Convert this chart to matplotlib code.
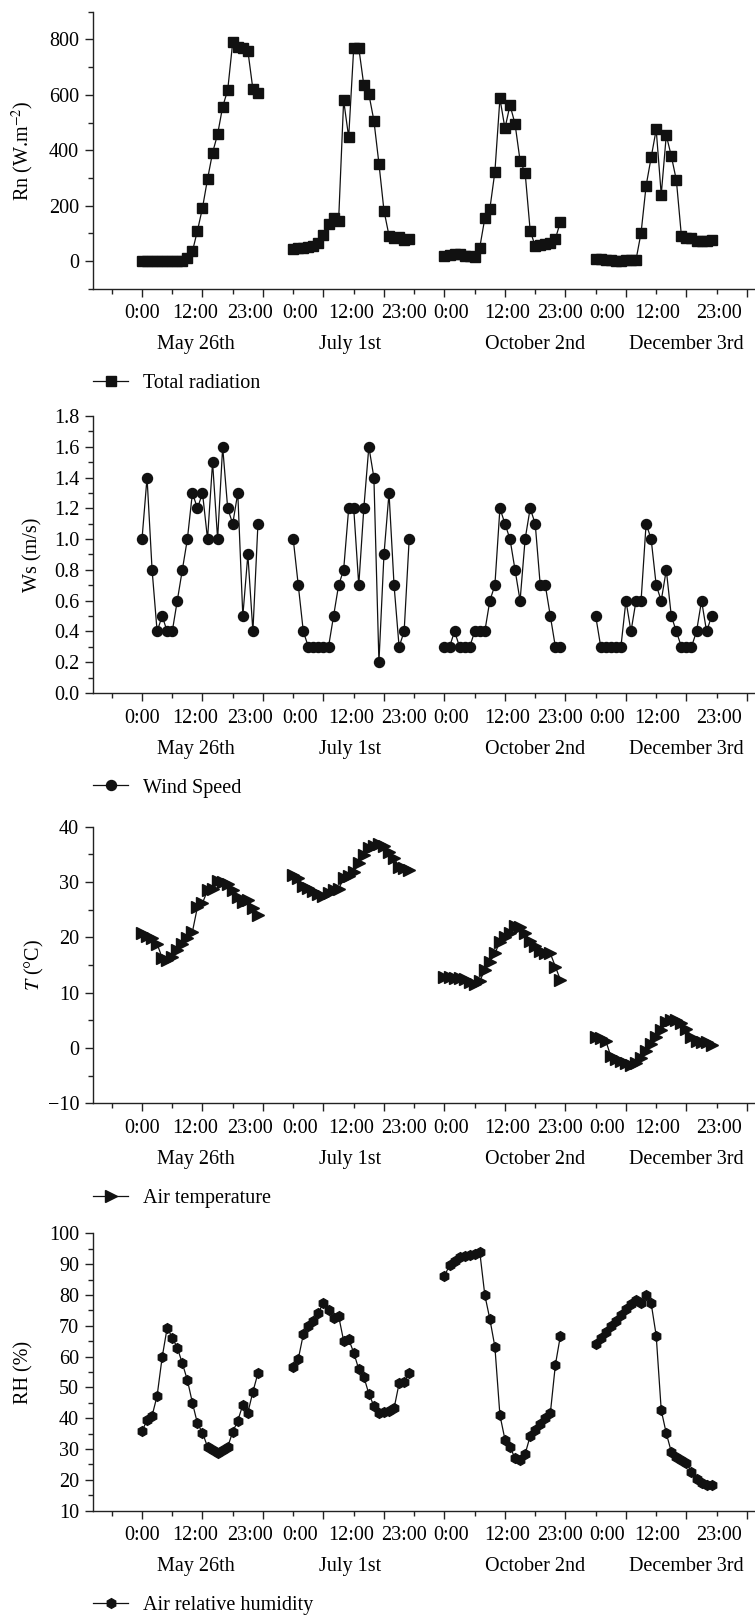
import numpy as np
import matplotlib
matplotlib.use('Agg')
import matplotlib.pyplot as plt
from matplotlib.ticker import MultipleLocator
from matplotlib.lines import Line2D

plt.rcParams['font.family'] = ['Liberation Serif', 'DejaVu Serif']
plt.rcParams['mathtext.fontset'] = 'stix'

# hourly data, 0:00 .. 23:00 for each of the four days
hours = np.arange(24)
days = ['May 26th', 'July 1st', 'October 2nd', 'December 3rd']

rn_may = [0, 0, 0, 0, 0, 0, 0, 0, 2, 10, 35, 110, 192, 296, 391, 458, 557, 617, 791, 773, 770, 759, 620, 608]
rn_jul = [45, 47, 48, 50, 55, 65, 95, 135, 155, 145, 580, 447, 770, 770, 635, 603, 507, 352, 182, 92, 85, 87, 76, 78]
rn_oct = [18, 22, 25, 24, 20, 17, 16, 49, 154, 188, 322, 587, 479, 563, 495, 362, 319, 110, 54, 57, 61, 64, 80, 142]
rn_dec = [8, 6, 4, 3, 2, 2, 3, 4, 5, 102, 272, 374, 475, 240, 454, 379, 292, 91, 85, 82, 73, 72, 73, 76]

ws_may = [1.0, 1.4, 0.8, 0.4, 0.5, 0.4, 0.4, 0.6, 0.8, 1.0, 1.3, 1.2, 1.3, 1.0, 1.5, 1.0, 1.6, 1.2, 1.1, 1.3, 0.5, 0.9, 0.4, 1.1]
ws_jul = [1.0, 0.7, 0.4, 0.3, 0.3, 0.3, 0.3, 0.3, 0.5, 0.7, 0.8, 1.2, 1.2, 0.7, 1.2, 1.6, 1.4, 0.2, 0.9, 1.3, 0.7, 0.3, 0.4, 1.0]
ws_oct = [0.3, 0.3, 0.4, 0.3, 0.3, 0.3, 0.4, 0.4, 0.4, 0.6, 0.7, 1.2, 1.1, 1.0, 0.8, 0.6, 1.0, 1.2, 1.1, 0.7, 0.7, 0.5, 0.3, 0.3]
ws_dec = [0.5, 0.3, 0.3, 0.3, 0.3, 0.3, 0.6, 0.4, 0.6, 0.6, 1.1, 1.0, 0.7, 0.6, 0.8, 0.5, 0.4, 0.3, 0.3, 0.3, 0.4, 0.6, 0.4, 0.5]

t_may = [20.8, 20.3, 19.8, 18.8, 16.3, 15.9, 16.5, 17.8, 18.8, 19.8, 21.0, 25.5, 26.2, 28.5, 28.8, 30.2, 30.0, 29.6, 28.6, 27.3, 26.4, 26.8, 25.3, 24.0]
t_jul = [31.2, 30.8, 29.3, 28.9, 28.3, 27.8, 27.4, 28.0, 28.6, 28.7, 30.7, 31.0, 31.9, 33.4, 34.9, 36.1, 36.6, 36.8, 36.5, 35.5, 34.3, 32.8, 32.5, 32.1]
t_oct = [12.9, 12.8, 12.7, 12.6, 12.4, 12.0, 11.6, 12.1, 14.1, 15.6, 17.1, 19.2, 20.1, 20.7, 22.0, 21.8, 20.7, 19.3, 18.4, 17.5, 17.2, 17.1, 14.7, 12.3]
t_dec = [2.0, 1.8, 1.3, -1.5, -2.0, -2.3, -2.8, -3.0, -2.7, -1.8, -0.5, 0.8, 2.0, 3.3, 4.7, 5.0, 5.0, 4.6, 3.5, 2.0, 1.3, 1.0, 1.0, 0.5]

rh_may = [35.8, 39.4, 40.8, 47.3, 59.8, 69.4, 66.1, 62.9, 57.8, 52.4, 45.0, 38.3, 35.3, 30.7, 29.6, 28.8, 29.6, 30.7, 35.6, 39.2, 44.3, 41.8, 48.6, 54.6]
rh_jul = [56.5, 59.2, 67.2, 69.9, 71.6, 74.3, 77.5, 75.0, 72.4, 73.2, 65.1, 65.6, 61.3, 55.9, 53.5, 47.9, 44.0, 41.6, 42.1, 42.3, 43.2, 51.3, 51.8, 54.8]
rh_oct = [86.1, 89.7, 91.1, 92.3, 92.6, 92.8, 93.2, 94.0, 80.0, 72.2, 63.2, 41.0, 33.1, 30.7, 27.0, 26.4, 28.4, 34.2, 36.1, 38.0, 40.0, 41.6, 57.3, 66.8]
rh_dec = [64.0, 66.0, 68.0, 70.0, 71.5, 73.5, 75.5, 77.0, 78.5, 77.5, 80.0, 77.3, 66.8, 42.6, 35.1, 29.1, 27.5, 26.4, 25.6, 22.6, 20.2, 19.0, 18.5, 18.3]

hour_labels = ['0:00', '12:00', '23:00'] * 4

# layout
day_start = [0, 30, 60, 90]
hour_label_x = [0, 10.5, 21.5, 31.4, 41.4, 52, 61.3, 72.5, 83, 92.3, 102.2, 114.5]
day_label_x = [10.7, 41.2, 78, 108]

W, H = 755, 1619
fig = plt.figure(figsize=(W / 100, H / 100), dpi=100)
fs = 14.5

panels = [
    dict(data=[rn_may, rn_jul, rn_oct, rn_dec], marker='s', ms=7, ylim=(-100, 900),
         minor=100, ticks=np.arange(0, 801, 200), fmt='{:.0f}',
         ylabel=r'Rn (W.m$^{-2}$)', labx=23, legend='Total radiation', top=11.7, bot=288.8),
    dict(data=[ws_may, ws_jul, ws_oct, ws_dec], marker='o', ms=7.2, ylim=(0, 1.8),
         minor=0.1, ticks=np.arange(0, 1.81, 0.2), fmt='{:.1f}',
         ylabel='Ws (m/s)', labx=32.5, legend='Wind Speed', top=416, bot=693),
    dict(data=[t_may, t_jul, t_oct, t_dec], marker='>', ms=8, ylim=(-10, 40),
         minor=5, ticks=np.arange(-10, 41, 10), fmt='{:.0f}',
         ylabel=r'$T$ (°C)', labx=34, legend='Air temperature', top=826.7, bot=1103.3),
    dict(data=[rh_may, rh_jul, rh_oct, rh_dec], marker='h', ms=7, ylim=(10, 100),
         minor=5, ticks=np.arange(10, 101, 10), fmt='{:.0f}',
         ylabel='RH (%)', labx=24, legend='Air relative humidity', top=1233.3, bot=1510.7),
]

left = 93
col = '#111111'
for p in panels:
    ax = fig.add_axes([left / W, 1 - p['bot'] / H, (W - left) / W, (p['bot'] - p['top']) / H])
    for d, vals in zip(day_start, p['data']):
        ax.plot(hours + d, vals, color=col, lw=0.9, marker=p['marker'], ms=p['ms'],
                mfc=col, mec=col, clip_on=False)
    ax.set_xlim(-9.72, 121.6)
    ax.set_ylim(*p['ylim'])
    ax.spines['top'].set_visible(False)
    ax.spines['right'].set_visible(False)
    for s in ['left', 'bottom']:
        ax.spines[s].set_linewidth(1.0)
        ax.spines[s].set_color('#222222')
    ax.xaxis.set_major_locator(MultipleLocator(12))
    ax.xaxis.set_minor_locator(MultipleLocator(6))
    ax.set_xticklabels([])
    ax.set_yticks(p['ticks'])
    ax.set_yticklabels([p['fmt'].format(v).replace('-', '\u2212') for v in p['ticks']])
    ax.yaxis.set_minor_locator(MultipleLocator(p['minor']))
    ax.tick_params(axis='both', which='major', direction='out', length=6, width=1,
                   color='#222222', labelsize=fs, pad=4)
    ax.tick_params(axis='both', which='minor', direction='out', length=3.5, width=1,
                   color='#222222')
    ax.set_ylabel(p['ylabel'], fontsize=fs, va='center')
    ax.yaxis.set_label_coords((p['labx'] - left) / (W - left), 0.5)

    for lab, xp in zip(hour_labels, hour_label_x):
        ax.annotate(lab, xy=(xp, 0), xycoords=('data', 'axes fraction'), xytext=(0, -25),
                    textcoords='offset pixels', ha='center', va='center', fontsize=fs,
                    annotation_clip=False)
    for lab, xp in zip(days, day_label_x):
        ax.annotate(lab, xy=(xp, 0), xycoords=('data', 'axes fraction'), xytext=(0, -56),
                    textcoords='offset pixels', ha='center', va='center', fontsize=fs,
                    annotation_clip=False)

    h = Line2D([], [], color=col, lw=0.9, marker=p['marker'], ms=p['ms'], mfc=col, mec=col)
    ax.legend([h], [p['legend']], loc='center left',
              bbox_to_anchor=(0, -95 / (p['bot'] - p['top'])), frameon=False,
              fontsize=fs, handlelength=1.75, handletextpad=0.75, borderpad=0, borderaxespad=0)

fig.savefig('out.png', dpi=100)
